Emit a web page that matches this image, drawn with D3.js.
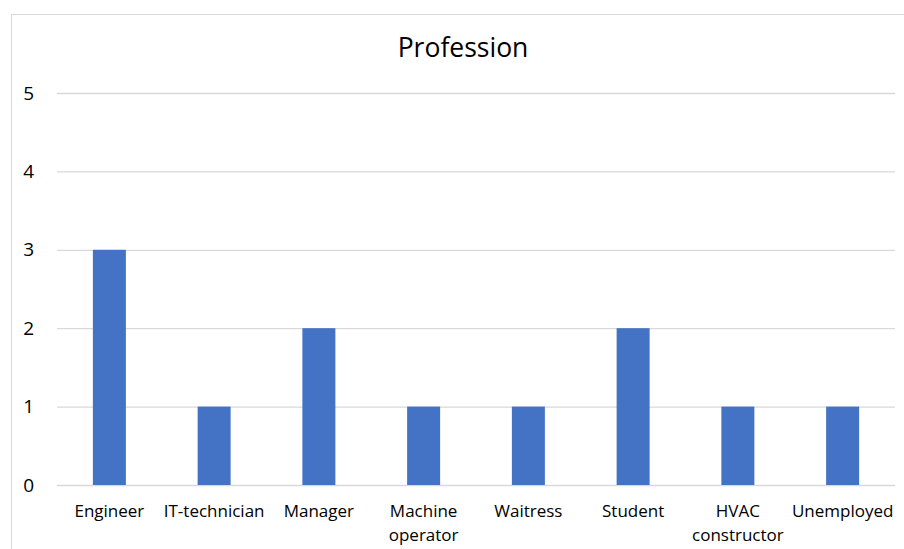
<!DOCTYPE html>
<html>
<head>
<meta charset="utf-8">
<script src="https://cdn.jsdelivr.net/npm/d3@7"></script>
<style>
  html, body { margin: 0; padding: 0; background: #fff; }
  svg { display: block; }
  svg text { font-family: "Open Sans", "Noto Sans", sans-serif; }
</style>
</head>
<body>
<svg id="chart" width="904" height="549"></svg>
<script>
// Count of respondents per profession
const categories = ["Engineer", "IT-technician", "Manager", "Machine operator", "Waitress", "Student", "HVAC constructor", "Unemployed"];
const counts = [3, 1, 2, 1, 1, 2, 1, 1];
const yTicks = [0, 1, 2, 3, 4, 5];
const title = "Profession";

const svg = d3.select("#chart");
const W = 904, H = 549;
const plot = { left: 57, right: 895, top: 93, bottom: 485 };

// outer chart frame
svg.append("rect")
  .attr("x", 11.5).attr("y", 14.5)
  .attr("width", W).attr("height", H)
  .attr("fill", "#fff").attr("stroke", "#d9d9d9").attr("stroke-width", 1);

const x = d3.scaleBand()
  .domain(categories)
  .range([plot.left, plot.right])
  .paddingInner(0.685)
  .paddingOuter(0.3425);

const y = d3.scaleLinear()
  .domain([0, 5])
  .range([plot.bottom, plot.top]);

// gridlines and y labels
const yAxis = d3.axisLeft(y).tickValues(yTicks).tickFormat(d3.format("d"))
  .tickSize(-(plot.right - plot.left)).tickPadding(23);
const gy = svg.append("g").attr("transform", `translate(${plot.left},0)`).call(yAxis)
  .attr("font-family", null).attr("font-size", null);
gy.select(".domain").remove();
gy.selectAll(".tick line").attr("stroke", "#d9d9d9").attr("stroke-width", 1.3);
gy.selectAll(".tick text").attr("fill", "#000").attr("font-size", 19);

// bars
svg.append("g").selectAll("rect")
  .data(categories.map((c, i) => ({ c, v: counts[i] })))
  .join("rect")
  .attr("x", d => x(d.c))
  .attr("width", x.bandwidth())
  .attr("y", d => y(d.v))
  .attr("height", d => y(0) - y(d.v))
  .attr("fill", "#4472c4");

// category labels (two-word names wrap onto two lines)
const xAxis = d3.axisBottom(x).tickSize(0).tickPadding(0);
const gx = svg.append("g").attr("transform", `translate(0,${plot.bottom})`).call(xAxis)
  .attr("font-family", null).attr("font-size", null);
gx.select(".domain").remove();
gx.selectAll(".tick text").remove();
gx.selectAll(".tick").each(function(d) {
  const lines = d.split(" ");
  const t = d3.select(this).append("text")
    .attr("fill", "#000").attr("font-size", 17).attr("text-anchor", "middle");
  lines.forEach((ln, i) => {
    t.append("tspan").attr("x", 0).attr("y", 32 + i * 24).text(ln);
  });
});

// title
svg.append("text")
  .attr("x", 463).attr("y", 57)
  .attr("text-anchor", "middle").attr("font-size", 26.5).attr("fill", "#000")
  .text(title);
</script>
</body>
</html>
